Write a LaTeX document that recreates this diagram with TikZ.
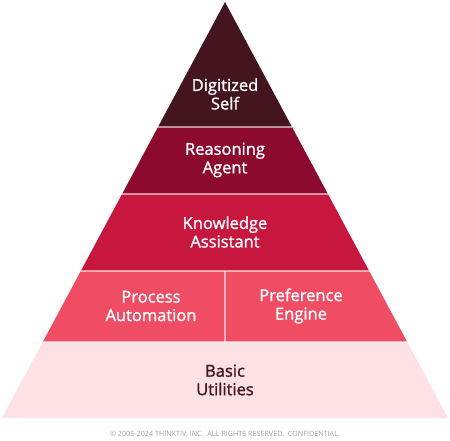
\documentclass[tikz,border=0pt]{standalone}
\usepackage{fontspec}
\setmainfont{Open Sans}
\newfontfamily\tierfont{Open Sans}[FakeBold=1.3]
\usetikzlibrary{calc, positioning}

\definecolor{lvlA}{HTML}{45151F}
\definecolor{lvlB}{HTML}{8B0A2E}
\definecolor{lvlC}{HTML}{C8173F}
\definecolor{lvlD}{HTML}{F04C64}
\definecolor{lvlE}{HTML}{FDE1E5}
\definecolor{footgray}{HTML}{A0A0A0}

\tikzset{
  tierlabel/.style={align=center, text=white, inner sep=0pt,
    font=\tierfont\fontsize{16.5}{18.5}\selectfont},
  separator/.style={white, opacity=0.55, line width=1.3pt}
}

\begin{document}
\begin{tikzpicture}[x=1pt, y=-1pt]
            \useasboundingbox (0,0) rectangle (450,440);
            \coordinate (apex) at (225,2);
            \coordinate (bl) at (2,418);
            \coordinate (br) at (448,418);

            % pyramid tiers, top to bottom
            \foreach \ta/\tb/\col in {0/0.3005/lvlA, 0.3005/0.4615/lvlB, 0.4615/0.6466/lvlC, 0.6466/0.8173/lvlD, 0.8173/1/lvlE} {
                \fill[\col] ($(apex)!\ta!(bl)$) -- ($(apex)!\tb!(bl)$) -- ($(apex)!\tb!(br)$) -- ($(apex)!\ta!(br)$) -- cycle;
            }
            \foreach \t in {0.3005, 0.4615, 0.6466, 0.8173} {
                \draw[separator] ($(apex)!\t!(bl)$) -- ($(apex)!\t!(br)$);
            }
            \coordinate (divtop) at (225,271);
            \coordinate (divbot) at (225,342);
            \draw[separator] (divtop) -- (divbot);

            \node[tierlabel] (self) at (225,94) {Digitized\\Self};
            \node[tierlabel] (agent) at (225,160) {Reasoning\\Agent};
            \node[tierlabel] (know) at (225,232) {Knowledge\\Assistant};
            \node[tierlabel] (proc) at (151,306) {Process\\Automation};
            \node[tierlabel] (pref) at (301,306) {Preference\\Engine};
            \node[tierlabel, text=lvlA] (basic) at (225,380) {Basic\\Utilities};

            \node[font=\fontsize{7.2}{8}\selectfont, text=footgray, inner sep=0pt] (copy) at (225,434.5)
                {\textcopyright{} 2005-2024 THINKTIV, INC.\ \ ALL RIGHTS RESERVED.\ \ CONFIDENTIAL.};
        \end{tikzpicture}
\end{document}
